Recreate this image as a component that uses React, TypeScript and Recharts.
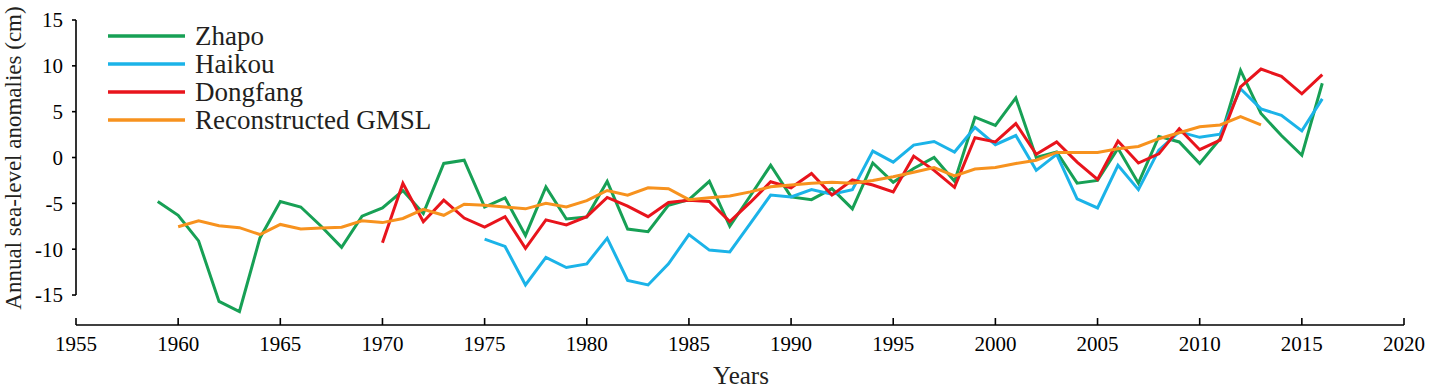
import React from "react"
import {
  Line,
  LineChart,
  ReferenceLine,
  XAxis,
  YAxis,
} from "recharts"

const years = Array.from({ length: 58 }, (_, i) => 1959 + i)

// Zhapo 1959-2016
const zhapo = [
  -4.8, -6.3, -9.1, -15.7, -16.8, -8.8, -4.8, -5.4, -7.5, -9.8,
  -6.4, -5.5, -3.6, -6.1, -0.65, -0.3, -5.4, -4.4, -8.5, -3.2,
  -6.7, -6.5, -2.6, -7.8, -8.1, -5.2, -4.6, -2.6, -7.5, -4.2,
  -0.85, -4.3, -4.6, -3.4, -5.6, -0.6, -2.7, -1.2, 0.0, -2.6,
  4.4, 3.5, 6.5, 0.0, 0.6, -2.8, -2.5, 1.0, -2.8, 2.3,
  1.7, -0.65, 2.05, 9.5, 4.8, 2.4, 0.25, 8.1,
]
// Haikou 1975-2016
const haikou = [
  -8.9, -9.7, -13.9, -10.9, -12.0, -11.6, -8.8, -13.4, -13.9, -11.6,
  -8.4, -10.1, -10.3, -7.2, -4.1, -4.3, -3.5, -4.0, -3.5, 0.7,
  -0.5, 1.35, 1.75, 0.6, 3.3, 1.4, 2.4, -1.4, 0.35, -4.5,
  -5.5, -0.85, -3.5, 0.8, 2.8, 2.2, 2.55, 7.5, 5.3, 4.6,
  2.9, 6.4,
]
// Dongfang 1970-2016
const dongfang = [
  -9.3, -2.8, -7.0, -4.65, -6.6, -7.6, -6.45, -9.9, -6.8, -7.35,
  -6.45, -4.35, -5.3, -6.45, -4.9, -4.65, -4.8, -7.0, -4.9, -2.65,
  -3.3, -1.75, -4.1, -2.45, -3.0, -3.75, 0.15, -1.4, -3.25, 2.15,
  1.7, 3.7, 0.35, 1.7, -0.5, -2.4, 1.8, -0.6, 0.4, 3.15,
  0.85, 1.9, 7.7, 9.65, 8.85, 6.95, 9.05,
]
// Reconstructed GMSL 1960-2013
const gmsl = [
  -7.55, -6.9, -7.45, -7.65, -8.4, -7.3, -7.8, -7.7, -7.6, -6.9,
  -7.1, -6.65, -5.65, -6.3, -5.1, -5.2, -5.4, -5.6, -5.0, -5.4,
  -4.7, -3.6, -4.1, -3.3, -3.4, -4.6, -4.4, -4.2, -3.75, -3.2,
  -3.0, -2.8, -2.7, -2.8, -2.5, -2.1, -1.6, -1.1, -2.0, -1.25,
  -1.1, -0.65, -0.3, 0.55, 0.55, 0.55, 0.95, 1.2, 2.05, 2.7,
  3.35, 3.55, 4.45, 3.55,
]

const xTicks = [1955, 1960, 1965, 1970, 1975, 1980, 1985, 1990, 1995, 2000, 2005, 2010, 2015, 2020]
const yTicks = [-15, -10, -5, 0, 5, 10, 15]

const series = [
  { key: "zhapo", name: "Zhapo", color: "#17a055", start: 1959, values: zhapo },
  { key: "haikou", name: "Haikou", color: "#1bb3e8", start: 1975, values: haikou },
  { key: "dongfang", name: "Dongfang", color: "#e8141c", start: 1970, values: dongfang },
  { key: "gmsl", name: "Reconstructed GMSL", color: "#f7921e", start: 1960, values: gmsl },
]

const data = years.map((year) => {
  const row: Record<string, number | null> = { year }
  series.forEach((s) => {
    const i = year - s.start
    row[s.key] = i >= 0 && i < s.values.length ? s.values[i] : null
  })
  return row
})

const FONT = '"Liberation Serif", "DejaVu Serif", serif'

function LegendBox() {
  return (
    <div style={{ position: "absolute", left: 108, top: 22, fontFamily: FONT }}>
      {series.map((s) => (
        <div key={s.key} style={{ display: "flex", alignItems: "center", height: 28 }}>
          <svg width={77} height={6} style={{ display: "block" }}>
            <line x1={0} x2={77} y1={3} y2={3} stroke={s.color} strokeWidth={3.5} />
          </svg>
          <span style={{ marginLeft: 10, fontSize: 27, color: "#231f20", lineHeight: "28px", whiteSpace: "nowrap" }}>
            {s.name}
          </span>
        </div>
      ))}
    </div>
  )
}

function YTitle() {
  return (
    <text
      x={13}
      y={158}
      transform="rotate(-90 13 158)"
      textAnchor="middle"
      dominantBaseline="central"
      fontFamily={FONT}
      fontSize={23}
      fill="#231f20"
    >
      Annual sea-level anomalies (cm)
    </text>
  )
}

function XTitle() {
  return (
    <text x={741} y={384} textAnchor="middle" fontFamily={FONT} fontSize={25} fill="#231f20">
      Years
    </text>
  )
}

export default function App() {
  return (
    <div style={{ position: "absolute", left: 0, top: 0, width: 1432, height: 389, background: "#fff" }}>
      <LineChart width={1432} height={389} data={data} margin={{ top: 20, right: 28, left: 0, bottom: 0 }}>
        <XAxis
          dataKey="year"
          type="number"
          domain={[1955, 2020]}
          ticks={xTicks}
          height={64}
          stroke="#000"
          strokeWidth={1.6}
          tickSize={-7}
          tickMargin={18}
          tick={{ fontFamily: FONT, fontSize: 21, fill: "#000" }}
          label={<XTitle />}
        />
        <YAxis
          type="number"
          domain={[-18.27, 15]}
          ticks={yTicks}
          width={76}
          axisLine={false}
          stroke="#000"
          tickLine={{ stroke: "#000", strokeWidth: 1.6 }}
          tickSize={4}
          tickMargin={9}
          tick={{ fontFamily: FONT, fontSize: 21, fill: "#000" }}
          label={<YTitle />}
        />
        <ReferenceLine
          segment={[{ x: 1955, y: -15 }, { x: 1955, y: 15 }]}
          stroke="#000"
          strokeWidth={1.6}
        />
        {series.map((s) => (
          <Line
            key={s.key}
            dataKey={s.key}
            name={s.name}
            type="linear"
            stroke={s.color}
            strokeWidth={3}
            dot={false}
            activeDot={false}
            isAnimationActive={false}
          />
        ))}
      </LineChart>
      <LegendBox />
    </div>
  )
}
